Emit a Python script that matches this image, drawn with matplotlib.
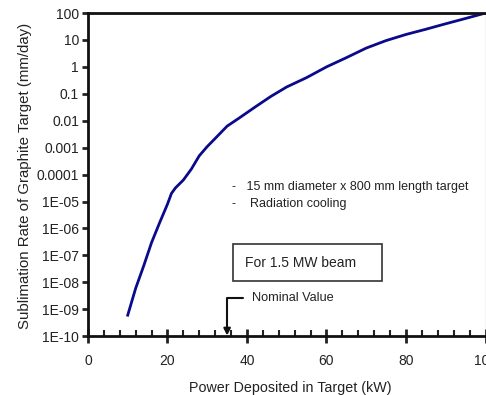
import matplotlib.pyplot as plt
from matplotlib.ticker import FixedLocator, MultipleLocator

plt.rcParams['font.family'] = ['Liberation Sans', 'DejaVu Sans']

# data
power_kw = [10, 12, 14, 16, 18, 20, 21, 22, 24, 26, 28, 30, 32, 35, 38, 42,
            46, 50, 55, 60, 65, 70, 75, 80, 85, 90, 95, 100]
rate = [6e-10, 6e-9, 4e-8, 3e-7, 1.6e-6, 8e-6, 2e-5, 3.2e-5, 6.3e-5, 1.6e-4,
        5e-4, 1.1e-3, 2.2e-3, 6.3e-3, 1.25e-2, 3.2e-2, 8e-2, 0.18, 0.4, 1.0,
        2.2, 5.0, 9.5, 16, 25, 40, 63, 100]

y_ticks = [1e-10, 1e-9, 1e-8, 1e-7, 1e-6, 1e-5, 1e-4, 1e-3, 1e-2, 0.1, 1, 10, 100]
y_labels = ["1E-10", "1E-09", "1E-08", "1E-07", "1E-06", "1E-05", "0.0001",
            "0.001", "0.01", "0.1", "1", "10", "100"]
x_ticks = [0, 20, 40, 60, 80, 100]

fig = plt.figure(figsize=(4.86, 3.95), dpi=100)
ax = fig.add_axes([0.181, 0.149, 0.818, 0.818])

ax.plot(power_kw, rate, color="#0a0a8a", lw=2)

ax.set_yscale("log")
ax.set_ylim(1e-10, 100)
ax.set_xlim(0, 100)
ax.yaxis.set_major_locator(FixedLocator(y_ticks))
ax.set_yticklabels(y_labels)
ax.yaxis.set_minor_locator(FixedLocator([]))
ax.set_xticks(x_ticks)
ax.xaxis.set_minor_locator(MultipleLocator(4))

ax.tick_params(axis="y", which="major", direction="out", length=4, width=2,
               labelsize=10, colors="#222222", pad=2.5)
ax.tick_params(axis="x", which="major", direction="inout", length=10, width=2,
               labelsize=10, colors="#222222", pad=8)
ax.tick_params(axis="x", which="minor", direction="in", length=4, width=1.5,
               colors="#222222")

for side in ["left", "bottom", "top"]:
    ax.spines[side].set_linewidth(2)
    ax.spines[side].set_color("#111111")
ax.spines["right"].set_linewidth(0.8)
ax.spines["right"].set_color("#555555")

ax.set_xlabel("Power Deposited in Target (kW)", fontsize=10.3, color="#222222")
ax.set_ylabel("Sublimation Rate of Graphite Target (mm/day)", fontsize=10.8,
              color="#222222")
ax.xaxis.set_label_coords(0.509, -0.139)
ax.yaxis.set_label_coords(-0.14, 0.497)

ax.text(36.2, 3.4e-5, "-   15 mm diameter x 800 mm length target",
        fontsize=9, va="center", ha="left", color="#222222")
ax.text(36.2, 8e-6, "-    Radiation cooling",
        fontsize=9, va="center", ha="left", color="#222222")
ax.text(39.4, 5.4e-8, "For 1.5 MW beam    ", fontsize=10, va="center", ha="left",
        color="#222222",
        bbox=dict(boxstyle="square,pad=0.8", fc="white", ec="#333333", lw=1.2))
ax.text(41.2, 2.6e-9, "Nominal Value", fontsize=9.2, va="center", ha="left",
        color="#222222")
ax.annotate("", xy=(35, 1.05e-10), xytext=(39, 2.6e-9),
            arrowprops=dict(arrowstyle="-|>", color="#111111", lw=1.5,
                            shrinkA=0, shrinkB=0,
                            connectionstyle="angle,angleA=0,angleB=90,rad=0"))

fig.savefig("out.png", dpi=100)
